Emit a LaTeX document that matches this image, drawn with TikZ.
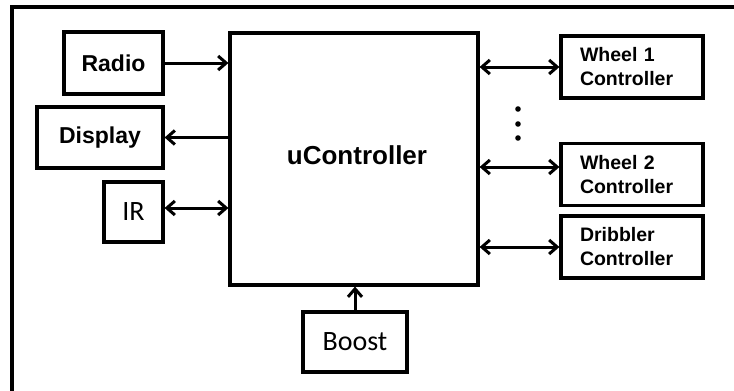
\documentclass[tikz,border=0pt]{standalone}
\usepackage{fontspec}
\setmainfont{Liberation Sans}
\newfontfamily\calib{Carlito}
\usetikzlibrary{arrows.meta}
\tikzset{
  blk/.style={draw, line width=3.2pt, inner sep=0pt, align=center},
  boldtxt/.style={font=\fontsize{23}{27}\selectfont\bfseries},
  caltxt/.style={font=\fontsize{28}{32}\selectfont\calib},
  ctrl/.style={blk, minimum width=142pt, minimum height=62pt, inner xsep=19pt, text width=104pt, align=left, font=\fontsize{19.5}{24}\selectfont\bfseries},
  conn/.style={line width=3pt, -{Straight Barb[length=8pt,width=14pt,line width=3pt]}},
  bconn/.style={line width=3pt, {Straight Barb[length=8pt,width=14pt,line width=3pt]}-{Straight Barb[length=8pt,width=14pt,line width=3pt]}}
}
\begin{document}
\begin{tikzpicture}[x=1pt,y=-1pt]
\useasboundingbox (0,0) rectangle (734,391);
% outer frame (cut off on right and bottom)
\draw[line width=4pt] (12,398) -- (12,7) -- (740,7);
% main controller
\node[blk, minimum width=248pt, minimum height=252pt] (uc) at (354,159) {};
\node[font=\fontsize{26}{30}\selectfont\bfseries] (uclabel) at (357,155) {uController};
% left blocks
\node[blk, boldtxt, minimum width=99pt, minimum height=62pt] (radio) at (113.5,63) {Radio};
\node[blk, boldtxt, minimum width=126pt, minimum height=61pt] (display) at (100,137.5) {Display};
\node[blk, caltxt, minimum width=59pt, minimum height=60pt] (ir) at (133.5,212) {IR};
% bottom block
\node[blk, caltxt, minimum width=104pt, minimum height=60pt] (boost) at (355,342) {Boost};
% right blocks
\node[ctrl] (w1) at (632,67) {Wheel 1\\Controller};
\node[ctrl] (w2) at (632,174.5) {Wheel 2\\Controller};
\node[ctrl] (dr) at (632,247) {Dribbler\\Controller};
% dots
\foreach \yy in {109,124,138} \fill (518,\yy) circle (2.8pt);
% connectors
\draw[conn] (radio.east) -- (radio.east -| uc.west);
\draw[conn] (display.east -| uc.west) -- (display.east);
\draw[bconn] ([yshift=4pt]ir.east) -- ([yshift=4pt]ir.east -| uc.west);
\draw[conn] (boost.north) -- (boost.north |- uc.south);
\draw[bconn] (w1.west -| uc.east) -- (w1.west);
\draw[bconn] ([yshift=7.5pt]w2.west -| uc.east) -- ([yshift=7.5pt]w2.west);
\draw[bconn] (dr.west -| uc.east) -- (dr.west);
\end{tikzpicture}
\end{document}
